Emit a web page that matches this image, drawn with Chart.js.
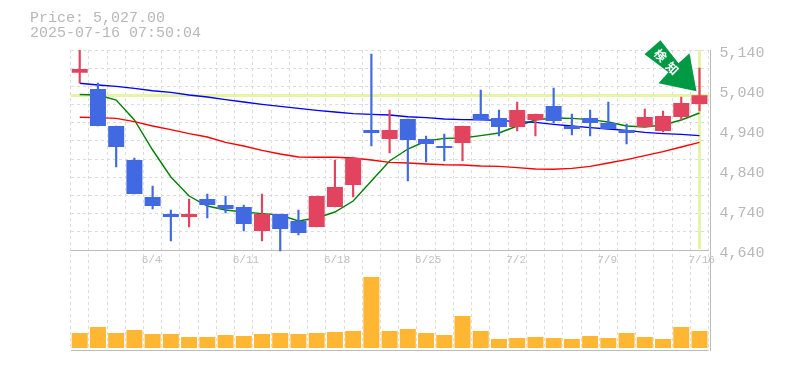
<!DOCTYPE html>
<html>
<head>
<meta charset="utf-8">
<style>html,body{margin:0;padding:0;background:#fff}canvas{display:block}</style>
<script src="https://cdn.jsdelivr.net/npm/chart.js@4"></script>
</head>
<body>
<canvas id="c" width="785" height="370"></canvas>
<script>
const categories = ['5/29','5/30','6/2','6/3','6/4','6/5','6/6','6/9','6/10','6/11','6/12','6/13','6/16','6/17','6/18','6/19','6/20','6/23','6/24','6/25','6/26','6/27','6/30','7/1','7/2','7/3','7/4','7/7','7/8','7/9','7/10','7/11','7/14','7/15','7/16'];
const weeklyLabels = ['6/4','6/11','6/18','6/25','7/2','7/9','7/16'];
const priceTicks = [5140,5040,4940,4840,4740,4640];
const open  = [5083,5042.5,4950,4865,4772.5,4730,4722.5,4767.5,4752.5,4747.5,4687.5,4730,4712.5,4697.5,4747.5,4802.5,4940,4917.5,4967.5,4917.5,4900,4907.5,4980,4970,4947.5,4965,5000,4950,4970,4957.5,4940,4947.5,4937.5,4972.5,5005];
const high  = [5155,5057,4950,4870,4800,4740,4767.5,4780,4775,4752.5,4780,4730,4740,4775,4865,4872.5,5130,4990,4967.5,4925,4930,4950,5040,4990,5010,4980,5045,4980,4990,5010,4955,4992.5,4987.5,5022.5,5095];
const low   = [5057.5,4950,4847.5,4780,4742.5,4662.5,4697.5,4720,4733,4687.5,4662.5,4637.5,4677.5,4697.5,4747.5,4772.5,4900,4882.5,4812.5,4860,4862.5,4862.5,4965,4925,4937.5,4925,4957.5,4927.5,4925,4942.5,4905,4947.5,4935,4965,4987.5];
const close = [5092.5,4950,4897.5,4780,4750,4722.5,4730,4752.5,4742.5,4705,4730,4692.5,4682.5,4775,4797.5,4870,4932.5,4940,4915,4905,4895,4950,4965,4947.5,4990,4980,4962.5,4942.5,4957.5,4942.5,4932.5,4972.5,4975,5007.5,5027];
const volume = [15,21,15,18,14,14,11,11,13,12,14,15,14,15,16,17,71,17,19,15,13,32,17,9,10,11,10,9,12,10,15,11,9,21,17];
const maShort = [5028.75,5027.5,5015,4965,4890,4822.5,4775,4750,4740,4735,4731,4727.5,4712.5,4720,4735,4762.5,4812.5,4862.5,4892.5,4912.5,4919,4920,4926,4932.5,4950,4965,4970,4969,4966,4960,4950,4947.5,4952.5,4965,4982.5];
const maMid = [4972,4971,4969,4961,4950,4941,4931,4922.5,4909,4900,4889,4880,4872.5,4872,4872,4870,4865,4859,4857.5,4855,4853,4852.5,4850,4849,4846,4842.5,4842,4844,4849,4857.5,4866,4876,4886,4897.5,4909];
const maLong = [5057,5052.5,5049,5044,5038,5034,5027.5,5022.5,5016,5010,5004,4999,4994,4989,4985,4981,4979,4977.5,4973,4971,4967.5,4966,4965.5,4964,4961,4959,4954,4950,4946,4942.5,4939,4934,4931,4929,4926];
const currentPrice = 5027;
const titleLines = ['Price: 5,027.00','2025-07-16 07:50:04'];
const badgeText = ['検','知'];

const UP='#E2445F', DOWN='#4169E1', TXT='#b8b8b8', GRID='#dcdcdc', AXIS='#bbbbbb', LIME='#E6F5A5';
const candleColors = close.map((c,i)=> c>=open[i] ? UP : DOWN);
const noPad = s=>{s.paddingLeft=0;s.paddingRight=0;s.paddingTop=0;s.paddingBottom=0;};

const overlay = {
  id:'overlay',
  beforeDatasetsDraw(chart){
    const {ctx,chartArea:a,scales:{x,y}} = chart;
    const py = y.getPixelForValue(currentPrice);
    const px = x.getPixelForValue(categories.length-1);
    ctx.save();
    ctx.fillStyle = AXIS;
    ctx.fillRect(Math.round(a.right)+1, a.top, 1, a.bottom-a.top+1);
    ctx.fillStyle = LIME;
    ctx.fillRect(a.left, Math.round(py)-1, a.right-a.left+1, 3);
    const lx = Math.round(px)-1, top=y.getPixelForValue(5140), bot=y.getPixelForValue(4640);
    ctx.fillRect(lx, top, 3, bot-top-1);
    ctx.restore();
  },
  afterDraw(chart){
    const {ctx,scales:{x,y}} = chart;
    ctx.save();
    ctx.font = '15px "Liberation Mono", monospace';
    ctx.fillStyle = TXT;
    ctx.textBaseline = 'middle';
    ctx.fillText(titleLines[0], 30, 18);
    ctx.fillText(titleLines[1], 30, 33);
    // detection badge: anchored to the last candle's close
    const tx = x.getPixelForValue(categories.length-1)-3;
    const ty = y.getPixelForValue(currentPrice)-4;
    const rel = [[-36,-51],[-52,-37],[-28,-19],[-38,-8],[0,0],[-7,-38],[-18,-28]];
    ctx.beginPath();
    rel.forEach((p,i)=>{ i ? ctx.lineTo(tx+p[0],ty+p[1]) : ctx.moveTo(tx+p[0],ty+p[1]); });
    ctx.closePath();
    ctx.fillStyle = '#009944';
    ctx.fill();
    ctx.fillStyle = '#fff';
    ctx.font = 'bold 12px "Noto Sans CJK JP", sans-serif';
    ctx.textAlign = 'center';
    ctx.textBaseline = 'middle';
    [[-36,-36],[-24,-23]].forEach((p,i)=>{
      ctx.save();
      ctx.translate(tx+p[0],ty+p[1]);
      ctx.rotate(Math.PI/4);
      ctx.fillText(badgeText[i],0,0);
      ctx.restore();
    });
    ctx.restore();
  }
};

const LEFT=70.6, RIGHT=708.6;
new Chart(document.getElementById('c'),{
  data:{
    labels:categories,
    datasets:[
      {type:'bar',label:'volume',yAxisID:'yVol',data:volume.map(v=>v*1000),backgroundColor:'#FFB733',barPercentage:0.878,categoryPercentage:1,grouped:false,order:5},
      {type:'line',label:'MA long',yAxisID:'y',data:maLong,borderColor:'#0000ff',borderWidth:1.4,pointRadius:0,tension:0,order:4},
      {type:'line',label:'MA mid',yAxisID:'y',data:maMid,borderColor:'#ff0000',borderWidth:1.4,pointRadius:0,tension:0,order:4},
      {type:'line',label:'MA short',yAxisID:'y',data:maShort,borderColor:'#008000',borderWidth:1.4,pointRadius:0,tension:0,order:4},
      {type:'bar',label:'wick',yAxisID:'y',data:low.map((l,i)=>[l,high[i]]),backgroundColor:candleColors,barThickness:1.5,grouped:false,order:2},
      {type:'bar',label:'body',yAxisID:'y',data:open.map((o,i)=>[o,close[i]]),backgroundColor:candleColors,barPercentage:0.878,categoryPercentage:1,grouped:false,order:1}
    ]
  },
  options:{
    responsive:false,
    animation:false,
    events:[],
    layout:{padding:{top:50,left:0,right:0,bottom:0}},
    plugins:{legend:{display:false},tooltip:{enabled:false},title:{display:false}},
    scales:{
      x:{
        type:'category',position:'bottom',offset:true,
        afterFit(s){s.height=20;noPad(s);},
        border:{display:false,dash:[3,3]},
        grid:{offset:true,drawTicks:false,lineWidth:1,color:GRID},
        ticks:{
          autoSkip:false,maxRotation:0,minRotation:0,mirror:true,padding:83,align:'start',labelOffset:-11,
          color:'#c0c0c0',font:{family:'"Liberation Mono",monospace',size:11},
          callback(v){const l=this.getLabelForValue(v);return weeklyLabels.includes(l)?l:'';}
        }
      },
      y:{
        position:'right',min:4390,max:5140,
        afterBuildTicks(s){s.ticks=priceTicks.map(v=>({value:v}));},
        afterFit(s){s.width=785-RIGHT;noPad(s);},
        border:{display:false},
        grid:{display:false,drawTicks:false},
        ticks:{padding:11,labelOffset:3,color:TXT,font:{family:'"Liberation Mono",monospace',size:15},
          callback(v){return v.toLocaleString('en-US');}}
      },
      yVol:{display:false,position:'right',min:-2000,max:298000},
      yGrid:{
        position:'left',min:-5.5,max:11,
        afterBuildTicks(s){s.ticks=[-5.5,0,1,2,3,4,5,6,7,8,9,10,11].map(v=>({value:v}));},
        afterFit(s){s.width=LEFT;noPad(s);},
        border:{display:false,dash:c=>(c.tick&&c.tick.value<=0)?[]:[3,3]},
        grid:{drawTicks:false,lineWidth:1,color:c=>(c.tick&&c.tick.value<=0)?AXIS:GRID},
        ticks:{display:false}
      }
    }
  },
  plugins:[overlay]
});
</script>
</body>
</html>
